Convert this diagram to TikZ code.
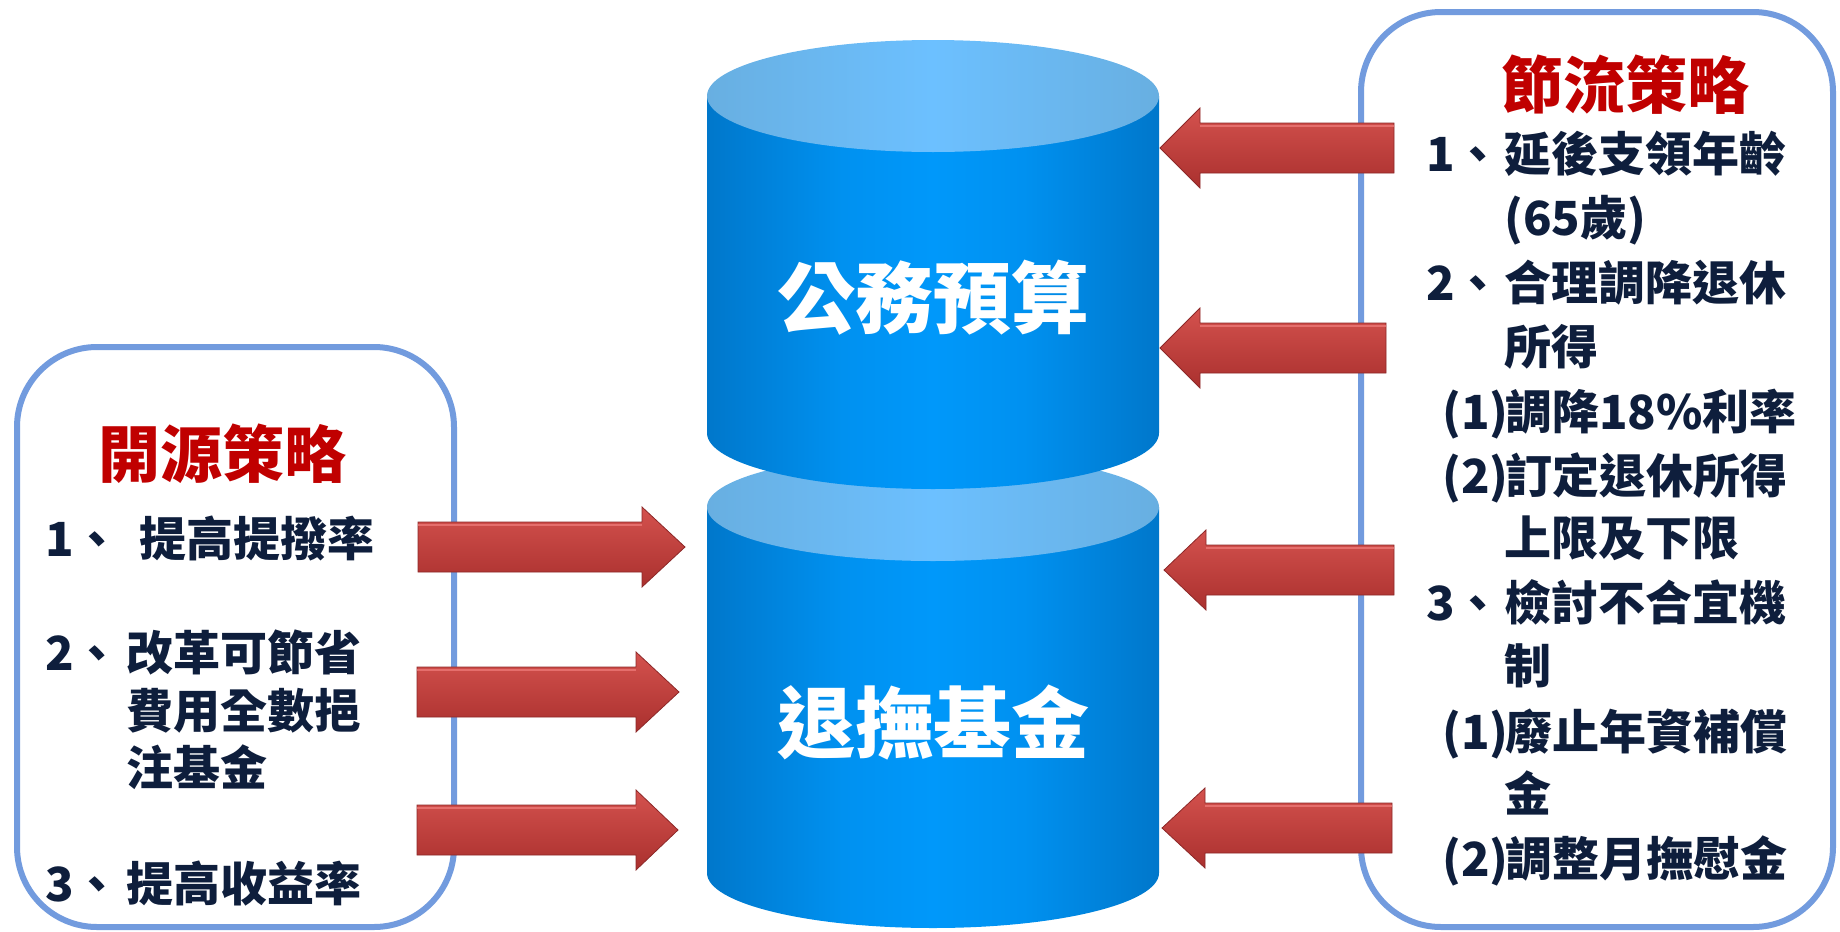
\documentclass[tikz,border=0pt]{standalone}
\usepackage{fontspec}
\setmainfont{Noto Sans CJK TC}
\definecolor{boxblue}{RGB}{114,155,222}
\definecolor{navy}{RGB}{14,30,60}
\definecolor{titlered}{RGB}{192,0,0}
\definecolor{cyldark}{RGB}{0,70,122}
\definecolor{cylmid}{RGB}{0,102,178}
\definecolor{cylhi}{RGB}{0,145,240}
\definecolor{cylbright}{RGB}{0,152,250}
\definecolor{topedge}{RGB}{104,150,182}
\definecolor{topmid}{RGB}{104,175,225}
\definecolor{topbright}{RGB}{108,192,255}
\definecolor{arrowlight}{RGB}{212,82,78}
\definecolor{arrowmid}{RGB}{200,64,60}
\definecolor{arrowdark}{RGB}{170,48,46}
\definecolor{arrowedge}{RGB}{140,40,40}
\definecolor{arrowhl}{RGB}{236,120,118}
\pgfdeclarehorizontalshading{cylbody}{100bp}{color(0bp)=(cyldark); color(15bp)=(cylmid); color(40bp)=(cylhi); color(50bp)=(cylbright); color(60bp)=(cylhi); color(85bp)=(cylmid); color(100bp)=(cyldark)}
\pgfdeclarehorizontalshading{cyltop}{100bp}{color(0bp)=(topedge); color(25bp)=(topmid); color(50bp)=(topbright); color(75bp)=(topmid); color(100bp)=(topedge)}
\newcommand{\redblock}[4]{%
  \path[arrowfill] (#1,#4+25) -- (#2,#4+25) -- (#2,#4+40) -- (#3,#4) -- (#2,#4-40) -- (#2,#4-25) -- (#1,#4-25) -- cycle;
  \draw[arrowline] (#1,#4+22) -- (#2,#4+22);
}
\tikzset{
  boxstyle/.style={draw=boxblue, line width=6pt, rounded corners=80pt, fill=white},
  arrowfill/.style={top color=arrowlight, middle color=arrowmid, bottom color=arrowdark, draw=arrowedge, line width=0.8pt},
  arrowline/.style={draw=arrowhl, line width=2.5pt, opacity=0.8},
  itemtxt/.style={anchor=west, inner sep=0pt, text height=41pt, text depth=6pt, font=\fontsize{47}{50}\selectfont\bfseries, text=navy},
  titletxt/.style={anchor=center, inner sep=0pt, text height=54pt, text depth=8pt, font=\fontsize{62}{66}\selectfont\bfseries, text=titlered},
  cyltxt/.style={anchor=center, inner sep=0pt, text height=69pt, text depth=9pt, font=\fontsize{78}{82}\selectfont\bfseries, text=white},
}
\newcommand{\numpre}[1]{\makebox[78pt][l]{#1}}
\newcommand{\parpre}[1]{\makebox[63pt][l]{#1}}
\newcommand{\lnumpre}[1]{\makebox[81pt][l]{#1}}
\begin{document}
\begin{tikzpicture}[x=1pt,y=1pt]
\useasboundingbox (0,0) rectangle (1840,-932);
% boxes
\draw[boxstyle] (17,-347) rectangle (454,-927);
\draw[boxstyle] (1361,-12) rectangle (1833,-927);
% bottom cylinder
\shade[shading=cylbody] (707,-507) -- (707,-873) arc[start angle=180,end angle=360,x radius=226,y radius=55] -- (1159,-507) -- cycle;
\shade[shading=cyltop] (933,-507) ellipse [x radius=226, y radius=54];
% top cylinder
\shade[shading=cylbody] (707,-96) -- (707,-433) arc[start angle=180,end angle=360,x radius=226,y radius=56] -- (1159,-96) -- cycle;
\shade[shading=cyltop] (933,-96) ellipse [x radius=226, y radius=56];
% arrows to the right
\redblock{418}{642}{685}{-547}
\redblock{417}{636}{679}{-692}
\redblock{417}{636}{678}{-830}
% arrows to the left
\redblock{1394}{1200}{1160}{-148}
\redblock{1386}{1200}{1160}{-348}
\redblock{1394}{1206}{1164}{-570}
\redblock{1392}{1205}{1162}{-828}
% cylinder labels
\node[cyltxt] (c1) at (933,-297) {公務預算};
\node[cyltxt] (c2) at (933,-722) {退撫基金};
% titles
\node[titletxt] (lt) at (222,-454) {開源策略};
\node[titletxt] (rt) at (1625,-85) {節流策略};
% left items
\node[itemtxt] (l1) at (45,-539) {\makebox[94pt][l]{1、}提高提撥率};
\node[itemtxt] (l2) at (45,-653) {\lnumpre{2、}改革可節省};
\node[itemtxt] (l3) at (126,-711) {費用全數挹};
\node[itemtxt] (l4) at (126,-768) {注基金};
\node[itemtxt] (l5) at (45,-884) {\lnumpre{3、}提高收益率};
% right items
\node[itemtxt] (r1) at (1426,-154) {\numpre{1、}延後支領年齡};
\node[itemtxt] (r2) at (1504,-218) {(65歲)};
\node[itemtxt] (r3) at (1426,-283) {\numpre{2、}合理調降退休};
\node[itemtxt] (r4) at (1504,-347) {所得};
\node[itemtxt] (r5) at (1442,-412) {\parpre{(1)}調降18\%利率};
\node[itemtxt] (r6) at (1442,-476) {\parpre{(2)}訂定退休所得};
\node[itemtxt] (r7) at (1504,-538) {上限及下限};
\node[itemtxt] (r8) at (1426,-603) {\numpre{3、}檢討不合宜機};
\node[itemtxt] (r9) at (1504,-666) {制};
\node[itemtxt] (r10) at (1442,-732) {\parpre{(1)}廢止年資補償};
\node[itemtxt] (r11) at (1504,-794) {金};
\node[itemtxt] (r12) at (1442,-859) {\parpre{(2)}調整月撫慰金};
\end{tikzpicture}
\end{document}
